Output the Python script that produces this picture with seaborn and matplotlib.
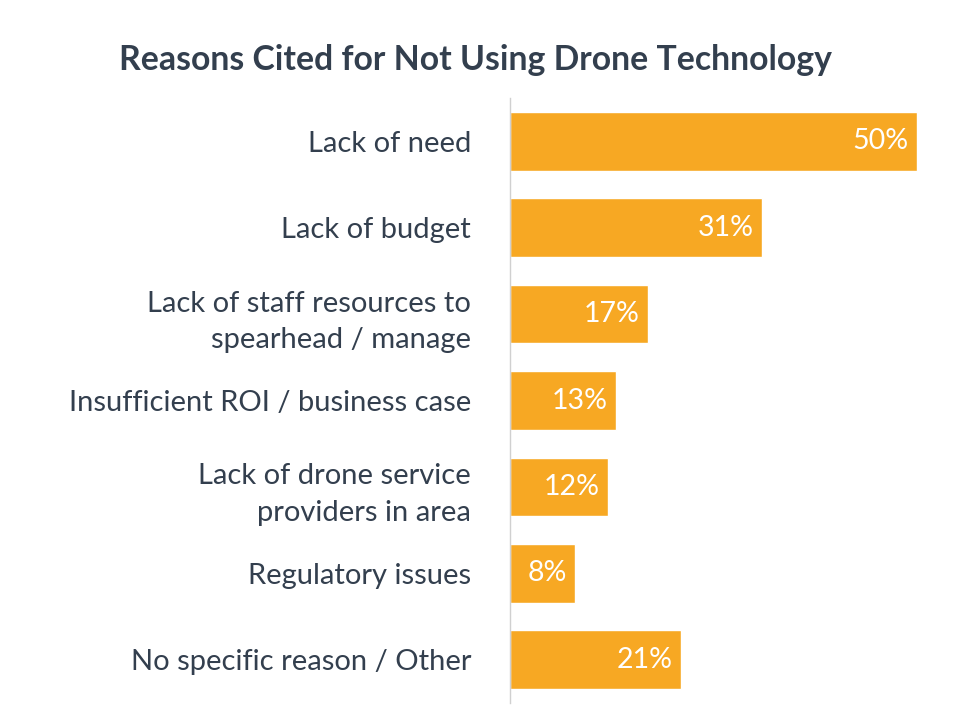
import matplotlib
matplotlib.use("Agg")
import matplotlib.pyplot as plt
import seaborn as sns
import pandas as pd

categories = [
    "Lack of need",
    "Lack of budget",
    "Lack of staff resources to\nspearhead / manage",
    "Insufficient ROI / business case",
    "Lack of drone service\nproviders in area",
    "Regulatory issues",
    "No specific reason / Other",
]
values = [50, 31, 17, 13, 12, 8, 21]
value_labels = ["50%", "31%", "17%", "13%", "12%", "8%", "21%"]
title = "Reasons Cited for Not Using Drone Technology"

sns.set_theme(style="white")
plt.rcParams["font.family"] = ["Lato", "DejaVu Sans"]

df = pd.DataFrame({"reason": categories, "pct": values})

fig = plt.figure(figsize=(9.6, 7.2), dpi=100)
ax = fig.add_axes([510 / 960, 1 - 703 / 720, (917 - 510) / 960, (703 - 98) / 720])

bar_color = "#F7A823"
text_color = "#333F4E"
sns.barplot(data=df, x="pct", y="reason", orient="h", color=bar_color,
            saturation=1, width=0.68, ax=ax)

ax.set_xlim(0, 50)
ax.set_ylim(6.5, -0.5)
ax.set_xlabel("")
ax.set_ylabel("")
ax.set_xticks([])
for s in ["top", "right", "bottom"]:
    ax.spines[s].set_visible(False)
ax.spines["left"].set_color("#D0D0D0")
ax.spines["left"].set_linewidth(1.0)
ax.tick_params(axis="y", length=0, pad=28)
for lbl in ax.get_yticklabels():
    lbl.set_fontsize(21)
    lbl.set_color(text_color)
    lbl.set_multialignment("right")
    lbl.set_linespacing(1.5)

for i, (v, t) in enumerate(zip(values, value_labels)):
    ax.annotate(t, xy=(v, i), xytext=(-6, 0), textcoords="offset points",
                ha="right", va="center", color="white", fontsize=20.5)

fig.text(475 / 960, 1 - 60 / 720, title, ha="center", va="center",
         fontsize=24.3, fontweight="bold", color=text_color)

fig.savefig("out.png", dpi=100)
